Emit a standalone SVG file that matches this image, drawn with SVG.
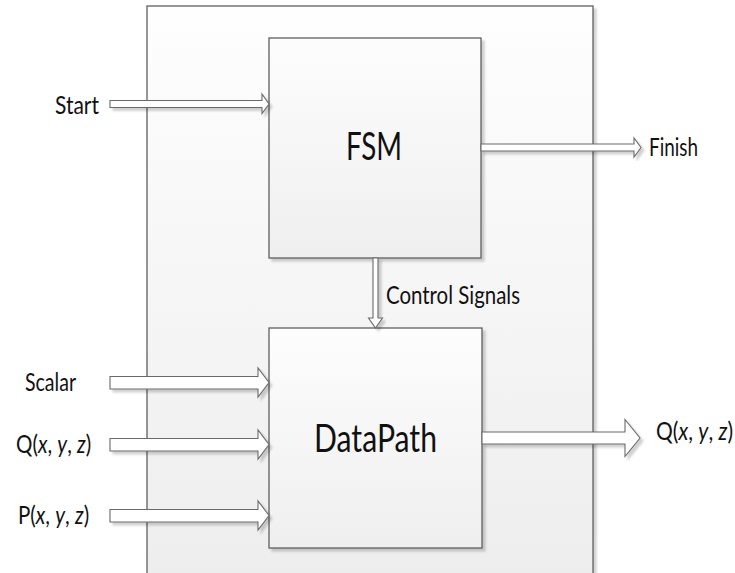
<svg xmlns="http://www.w3.org/2000/svg" width="735" height="573" viewBox="0 0 735 573">
  <defs>
    <linearGradient id="gOuter" x1="0" y1="0" x2="0" y2="1">
      <stop offset="0" stop-color="#fefefe"/>
      <stop offset="1" stop-color="#ececec"/>
    </linearGradient>
    <linearGradient id="gBlock" x1="0" y1="0" x2="0" y2="1">
      <stop offset="0" stop-color="#fdfdfd"/>
      <stop offset="1" stop-color="#efefef"/>
    </linearGradient>
    <filter id="shadow" x="-10%" y="-10%" width="130%" height="130%">
      <feDropShadow dx="3" dy="3" stdDeviation="1.2" flood-color="#000" flood-opacity="0.18"/>
    </filter>
  </defs>
  <style>
    .box { stroke: #5f5f5f; stroke-width: 1.3; filter: url(#shadow); }
    .arrow { fill: #ffffff; stroke: #6a6a6a; stroke-width: 1.1; stroke-linejoin: miter; filter: url(#shadow); }
    .lbl { font-family: Lato, "Liberation Sans", sans-serif; font-size: 25px; fill: #111; }
    .big { font-family: Lato, "Liberation Sans", sans-serif; font-size: 38px; fill: #111; }
    .it { font-style: italic; }
  </style>

  <rect width="735" height="573" fill="#ffffff"/>

  <!-- enclosing system block -->
  <g id="system">
    <rect class="box" x="147" y="6" width="446" height="620" fill="url(#gOuter)"/>
  </g>

  <!-- controller -->
  <g id="fsm">
    <rect class="box" x="269" y="38" width="212" height="220" fill="url(#gBlock)"/>
    <text class="big" x="346" y="160" textLength="56" lengthAdjust="spacingAndGlyphs">FSM</text>
  </g>

  <!-- datapath -->
  <g id="datapath">
    <rect class="box" x="269" y="328" width="213" height="220" fill="url(#gBlock)"/>
    <text class="big" x="314" y="452" textLength="123" lengthAdjust="spacingAndGlyphs">DataPath</text>
  </g>

  <!-- block arrows -->
  <g id="connectors">
    <!-- Start -> FSM -->
    <polygon class="arrow" points="110,100.5 262,100.5 262,94 269,104 262,113.5 262,107.5 110,107.5"/>
    <!-- FSM -> Finish -->
    <polygon class="arrow" points="481,144 634,144 634,138 641,147.5 634,157 634,151 481,151"/>
    <!-- FSM -> DataPath (control signals) -->
    <polygon class="arrow" points="373,258 378,258 378,318 382.5,318 375.5,328 368.5,318 373,318"/>
    <!-- Scalar -> DataPath -->
    <polygon class="arrow" points="110,376.5 258,376.5 258,368 269,382.5 258,397 258,389 110,389"/>
    <!-- Q in -> DataPath -->
    <polygon class="arrow" points="110,438.5 258,438.5 258,430 269,444.5 258,459 258,451 110,451"/>
    <!-- P in -> DataPath -->
    <polygon class="arrow" points="110,509.5 258,509.5 258,501 269,515.5 258,530 258,522 110,522"/>
    <!-- DataPath -> Q out -->
    <polygon class="arrow" points="482,432 625,432 625,419.5 640,438 625,456.5 625,444 482,444"/>
  </g>

  <!-- signal labels (narrowed horizontally) -->
  <g id="labels">
    <text class="lbl" x="55" y="114" textLength="44" lengthAdjust="spacingAndGlyphs">Start</text>
    <text class="lbl" x="649" y="156" textLength="49" lengthAdjust="spacingAndGlyphs">Finish</text>
    <text class="lbl" x="386" y="304" textLength="134" lengthAdjust="spacingAndGlyphs">Control Signals</text>
    <text class="lbl" x="25" y="391" textLength="51" lengthAdjust="spacingAndGlyphs">Scalar</text>
    <text class="lbl" transform="translate(16,453) scale(0.82,1)">Q(<tspan class="it">x</tspan>, <tspan class="it">y</tspan>, <tspan class="it">z</tspan>)</text>
    <text class="lbl" transform="translate(18,524) scale(0.82,1)">P(<tspan class="it">x</tspan>, <tspan class="it">y</tspan>, <tspan class="it">z</tspan>)</text>
    <text class="lbl" transform="translate(656,440) scale(0.84,1)">Q(<tspan class="it">x</tspan>, <tspan class="it">y</tspan>, <tspan class="it">z</tspan>)</text>
  </g>
</svg>
